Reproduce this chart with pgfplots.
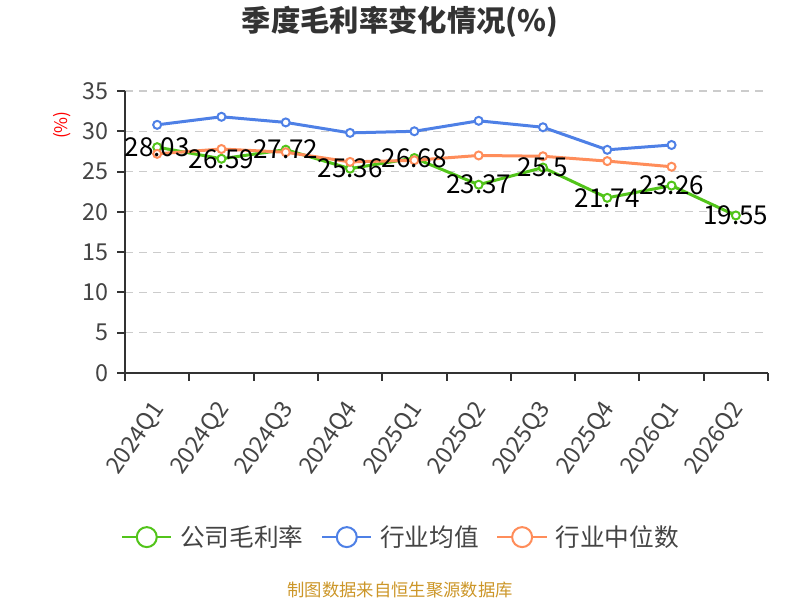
\documentclass[border=0pt]{standalone}
\usepackage{fontspec}
\setmainfont{Noto Sans CJK SC}
\usepackage{pgfplots}
\pgfplotsset{compat=1.18}
\definecolor{cgreen}{RGB}{82,196,26}
\definecolor{cblue}{RGB}{78,128,230}
\definecolor{corange}{RGB}{255,141,90}
\definecolor{axisgray}{RGB}{51,51,51}
\definecolor{textgray}{RGB}{68,68,68}
\definecolor{gridgray}{RGB}{204,204,204}
\definecolor{srcgold}{RGB}{204,150,40}

\begin{document}
\begin{tikzpicture}
\path[use as bounding box] (0,0) rectangle (600pt,450pt);
\node[font=\fontsize{22}{26}\selectfont\bfseries, text=axisgray] at (300pt,433.5pt) {季度毛利率变化情况(\%)};
\node[font=\fontsize{13}{15}\selectfont, text=srcgold] at (300pt,7.5pt) {制图数据来自恒生聚源数据库};
\begin{axis}[
  at={(93.75pt,170.25pt)}, anchor=south west,
  scale only axis, width=482.25pt, height=211.5pt,
  xmin=-0.5, xmax=9.5, ymin=0, ymax=35,
  axis x line*=bottom, axis y line*=left,
  axis line style={axisgray, line width=1.5pt},
  tick align=outside, major tick length=6pt,
  tick style={axisgray, line width=1.5pt},
  ytick={0,5,...,35},
  ymajorgrids, grid style={gridgray, line width=0.9pt, dash pattern=on 6pt off 4.5pt},
  xtick={0,...,9},
  xticklabels={2024Q1,2024Q2,2024Q3,2024Q4,2025Q1,2025Q2,2025Q3,2025Q4,2026Q1,2026Q2},
  xtick style={draw=none},
  extra x ticks={-0.5,0.5,...,9.5},
  extra x tick labels={},
  extra x tick style={xtick style={draw=axisgray, line width=1.5pt}},
  /pgf/number format/assume math mode=true,
  yticklabel style={font=\fontsize{17.5}{20}\selectfont, text=textgray, xshift=-3pt},
  xticklabel style={rotate=55, anchor=east, font=\fontsize{17.5}{20}\selectfont, text=textgray, yshift=-12pt, xshift=-10pt},
  ylabel={(\%)},
  ylabel style={at={(axis description cs:-0.098,0.879)}, anchor=center, text=red, font=\fontsize{13}{15}\selectfont},
  legend style={at={(0.418,-0.582)}, anchor=center, draw=none, fill=none, legend columns=3,
    font=\fontsize{18.5}{21}\selectfont, text=textgray,
    /tikz/column sep=0pt,
    /tikz/every odd column/.style={column sep=0pt},
    /tikz/every even column/.style={column sep=0pt}},
  legend image code/.code={\path[draw=none] (-12pt,0pt) -- (41.5pt,0pt); \draw[line width=1.5pt] (0pt,0pt) -- (37pt,0pt); \draw[line width=1.5pt, fill=white] (18.5pt,0pt) circle (7.5pt);},
  clip=false,
]
\addplot[cgreen, line width=2.25pt, mark=*, mark size=3pt, mark options={fill=white, line width=1.5pt}] coordinates {
(0,28.03) (1,26.59) (2,27.72) (3,25.36) (4,26.68) (5,23.37) (6,25.5) (7,21.74) (8,23.26) (9,19.55)
};
\addlegendentry{公司毛利率}
\addplot[cblue, line width=2.25pt, mark=*, mark size=3pt, mark options={fill=white, line width=1.5pt}] coordinates {
(0,30.8) (1,31.8) (2,31.1) (3,29.8) (4,30.0) (5,31.3) (6,30.5) (7,27.7) (8,28.3)
};
\addlegendentry{行业均值}
\addplot[corange, line width=2.25pt, mark=*, mark size=3pt, mark options={fill=white, line width=1.5pt}] coordinates {
(0,27.2) (1,27.8) (2,27.4) (3,26.2) (4,26.4) (5,27.0) (6,26.9) (7,26.3) (8,25.6)
};
\addlegendentry{行业中位数}
\addplot[draw=none, mark=none, forget plot, nodes near coords, point meta=explicit symbolic,
  nodes near coords style={anchor=center, font=\fontsize{19.5}{22}\selectfont, text=black}] coordinates {
(0,28.03) [28.03] (1,26.59) [26.59] (2,27.72) [27.72] (3,25.36) [25.36] (4,26.68) [26.68]
(5,23.37) [23.37] (6,25.5) [25.5] (7,21.74) [21.74] (8,23.26) [23.26] (9,19.55) [19.55]
};
\end{axis}
\end{tikzpicture}
\end{document}
